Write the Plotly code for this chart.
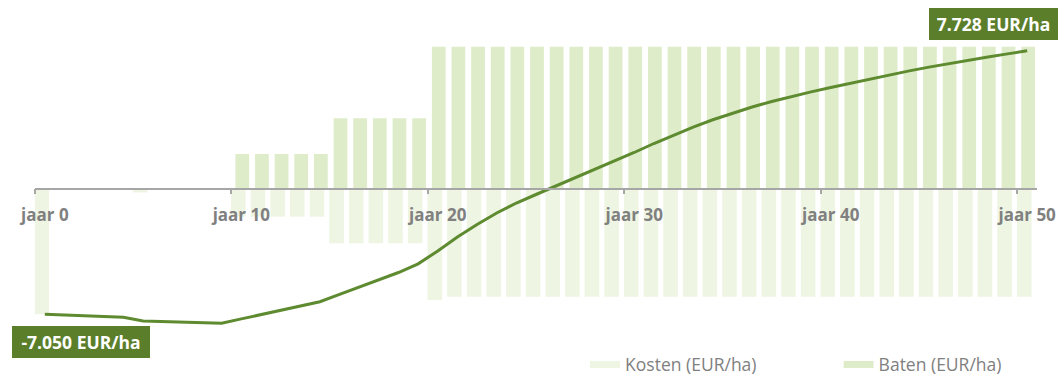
import plotly.graph_objects as go

# ---- data (EUR/ha) ----
years = list(range(0, 51))

baten = [0]*10 + [1940]*5 + [3945]*5 + [7960]*31

kosten = ([7050, 45, 45, 45, 45, 220, 35, 35, 35, 35]
          + [1575]*5 + [3070]*5 + [6250] + [6065]*30)

cumulatief = [-7050, -7091, -7125, -7158, -7214, -7422, -7456, -7489, -7523, -7551,
              -7310, -7069, -6827, -6586, -6345, -5935, -5526, -5116, -4707, -4220,
              -3501, -2715, -2014, -1369, -808, -331, 135, 600, 1072, 1548,
              2025, 2530, 3007, 3450, 3860, 4236, 4578, 4886, 5167, 5425,
              5672, 5913, 6149, 6379, 6603, 6816, 7018, 7209, 7388, 7557, 7728]

tick_years = [0, 10, 20, 30, 40, 50]
tick_labels = ["<b>jaar %d</b>" % y for y in tick_years]

start_label = "<b>-7.050 EUR/ha</b>"
end_label = "<b>7.728 EUR/ha</b>"

series_names = ["Kosten (EUR/ha)", "Baten (EUR/ha)"]

# ---- styling ----
C_LINE = "#5e8a30"
C_BOX = "#5b7e2b"
C_BATEN = "#dfecca"
C_KOSTEN = "#eef5e3"
C_AXIS = "#a6a6a6"
C_TEXT = "#808080"
FONT = "Open Sans"

YMIN, YMAX = -10513, 10580

fig = go.Figure()
fig.add_trace(go.Bar(x=years, y=[-k for k in kosten], name=series_names[0],
                     marker=dict(color=C_KOSTEN, line=dict(width=0)),
                     width=0.74, offset=-0.52, hoverinfo="skip",
                     legendgroup="k", showlegend=False))
fig.add_trace(go.Bar(x=years, y=baten, name=series_names[1],
                     marker=dict(color=C_BATEN, line=dict(width=0)),
                     width=0.70, offset=-0.30, hoverinfo="skip",
                     legendgroup="b", showlegend=False))
fig.add_trace(go.Scatter(x=years, y=cumulatief, mode="lines",
                         line=dict(color=C_LINE, width=3), showlegend=False,
                         name="Cumulatief"))
# legend entries (flat swatches like the original)
fig.add_trace(go.Scatter(x=[None], y=[None], mode="lines", name=series_names[0],
                         line=dict(color=C_KOSTEN, width=7), legendgroup="k",
                         legend="legend"))
fig.add_trace(go.Scatter(x=[None], y=[None], mode="lines", name=series_names[1],
                         line=dict(color=C_BATEN, width=7), legendgroup="b",
                         legend="legend2"))

pos = -YMIN / (YMAX - YMIN)

legend_common = dict(orientation="h", yanchor="middle", xanchor="left", y=0.03,
                     font=dict(family=FONT, size=17.5, color=C_TEXT),
                     bgcolor="rgba(0,0,0,0)")

fig.update_layout(
    width=1059, height=376,
    margin=dict(l=35, r=22, t=0, b=0, pad=0, autoexpand=False),
    paper_bgcolor="white", plot_bgcolor="white",
    barmode="overlay",
    font=dict(family=FONT, color=C_TEXT),
    xaxis=dict(range=[-0.5, 50.5], showgrid=False, zeroline=False,
               showline=True, linecolor=C_AXIS, linewidth=1.5,
               anchor="free", position=pos,
               tickmode="array", tickvals=tick_years, ticktext=tick_labels,
               ticks="", tickfont=dict(family=FONT, size=17, color=C_TEXT),
               ticklabelstandoff=11,
               minor=dict(tickmode="array",
                          tickvals=[t - 0.5 for t in tick_years],
                          ticks="outside", ticklen=5, tickwidth=1.5,
                          tickcolor=C_AXIS, showgrid=False),
               automargin=False, fixedrange=True),
    yaxis=dict(range=[YMIN, YMAX], visible=False, fixedrange=True),
    legend=dict(x=0.549, **legend_common),
    legend2=dict(x=0.802, **legend_common),
    showlegend=True,
)

fig.add_annotation(x=years[-1], y=cumulatief[-1], xref="x", yref="y",
                   text=end_label, showarrow=False, xshift=-34, yshift=27,
                   bgcolor=C_BOX, borderpad=0, borderwidth=0, width=129, height=32,
                   font=dict(family=FONT, size=17.5, color="white"))
fig.add_annotation(x=years[0], y=cumulatief[0], xref="x", yref="y",
                   text=start_label, showarrow=False, xshift=36, yshift=-28,
                   bgcolor=C_BOX, borderpad=0, borderwidth=0, width=138, height=32,
                   font=dict(family=FONT, size=17.5, color="white"))

fig.write_html("out.html")
